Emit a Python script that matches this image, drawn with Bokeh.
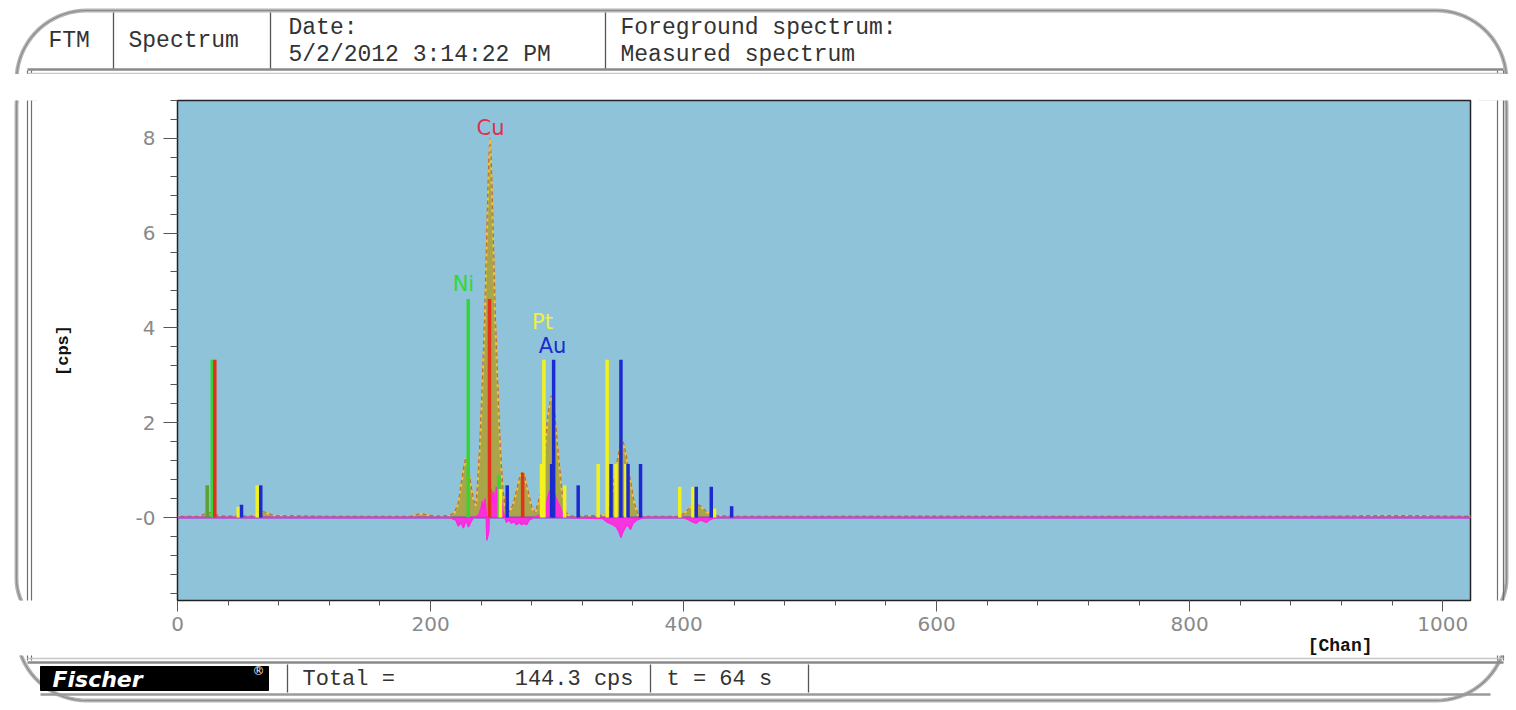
import numpy as np
from bokeh.plotting import figure
from bokeh.layouts import column, row
from bokeh.models import Range1d, SingleIntervalTicker, Title
from bokeh.core.properties import value
from bokeh.embed import file_html
from bokeh.resources import INLINE

# ---------------- data ----------------
spec_chan = [0, 18, 22, 26, 30, 34, 60, 64, 68, 72, 76, 120, 185, 192, 198, 205,
             215, 219, 222, 224, 226, 228, 230, 232, 234, 236, 237, 239, 241, 243,
             245, 246, 247, 248, 249, 251, 253, 255, 257, 259, 262, 265, 268, 271,
             272.5, 274, 277, 280, 283, 287, 290, 293, 295.5, 298, 301, 304, 307,
             310, 320, 339, 342, 345, 348, 351.5, 355, 358, 361, 364, 367, 380,
             398, 403, 408, 413, 418, 423, 440, 500, 600, 700, 800, 900, 960, 1022]
spec_cps = [0.02, 0.03, 0.08, 0.10, 0.06, 0.03, 0.03, 0.08, 0.12, 0.08, 0.04, 0.02,
            0.03, 0.08, 0.05, 0.03, 0.04, 0.10, 0.30, 0.65, 1.00, 1.27, 1.00, 0.65,
            0.35, 0.25, 0.60, 1.50, 2.80, 4.30, 6.40, 7.40, 8.00, 7.40, 6.40, 4.30,
            2.80, 1.50, 0.60, 0.20, 0.10, 0.25, 0.55, 0.90, 0.95, 0.90, 0.55, 0.20,
            0.10, 0.50, 1.30, 2.20, 2.57, 2.20, 1.30, 0.50, 0.10, 0.03, 0.03, 0.05,
            0.30, 0.75, 1.25, 1.68, 1.25, 0.75, 0.30, 0.05, 0.03, 0.02, 0.03, 0.15,
            0.28, 0.25, 0.12, 0.04, 0.02, 0.02, 0.03, 0.02, 0.02, 0.02, 0.04, 0.02]

res_chan = [0, 215, 220, 222, 224, 226, 228, 230, 232, 234, 238, 240, 241, 242,
            243, 244, 244.5, 246, 247, 248, 249, 250, 251, 252, 253, 254, 255, 257,
            260, 262, 264, 266, 268, 270, 272, 274, 276, 278, 282, 286, 290, 292,
            294, 296, 298, 300, 302, 304, 306, 310, 336, 340, 344, 347, 349, 350.5,
            352, 354, 356, 358, 360, 363, 368, 400, 404, 408, 410, 413, 416, 418,
            421, 425, 1022]
res_val = [0, 0, -0.05, -0.18, -0.10, -0.22, -0.05, -0.20, -0.08, 0.00, 0.05, 0.20,
           0.35, 0.15, 0.40, 0.10, -0.48, -0.30, 0.45, 0.60, 0.35, 0.55, 0.20, 0.65,
           0.30, 0.10, 0.60, 0.15, -0.10, -0.05, -0.12, -0.08, -0.15, -0.10, -0.15,
           -0.12, -0.15, -0.05, 0.00, 0.05, 0.15, 0.35, 0.55, 0.60, 0.50, 0.35, 0.25,
           0.10, 0.02, 0.00, -0.02, -0.10, -0.15, -0.20, -0.30, -0.42, -0.30, -0.20,
           -0.15, -0.25, -0.12, -0.05, 0.00, 0.00, -0.05, -0.10, -0.12, -0.05, -0.08,
           -0.10, -0.04, 0.00, 0.00]

esc_chan = [23.5]
esc_cps = [0.68]
ni_chan = [27.5, 229.8, 254.0]
ni_cps = [3.33, 4.61, 0.89]
cu_chan = [29.5, 246.6, 272.8]
cu_cps = [3.33, 4.61, 0.94]
pt_chan = [48.0, 63.0, 255.3, 287.7, 289.6, 306.0, 332.5, 339.6, 346.6, 354.4, 397.0, 407.4, 424.5]
pt_cps = [0.23, 0.68, 0.60, 1.13, 3.33, 0.68, 1.13, 3.33, 1.13, 1.13, 0.65, 0.65, 0.19]
au_chan = [50.6, 65.8, 260.6, 295.7, 297.3, 316.7, 342.7, 350.5, 356.1, 366.0, 410.0, 421.9, 438.0]
au_cps = [0.27, 0.68, 0.68, 1.13, 3.33, 0.68, 1.13, 3.33, 1.13, 1.13, 0.65, 0.65, 0.24]

peak_text = ["Cu", "Ni", "Pt", "Au"]
peak_chan = [247.4, 226.0, 288.5, 296.4]
peak_cps = [8.21, 4.92, 4.12, 3.61]

x_ticks_interval = 200
y_ticks_interval = 2

header_cells = ["FTM", "Spectrum", "Date:", "5/2/2012 3:14:22 PM",
                "Foreground spectrum:", "Measured spectrum"]
footer_cells = ["Total =", "144.3 cps", "t = 64 s"]

# ---------------- helpers ----------------
TOTAL_W = 1512
MONO = "Liberation Mono"


def page_fig(x0, y0, w, h):
    f = figure(width=w, height=h, x_range=Range1d(x0, x0 + w),
               y_range=Range1d(y0 + h, y0), x_axis_type=None, y_axis_type=None,
               toolbar_location=None, output_backend="svg", min_border=0,
               outline_line_color=None, background_fill_color="white",
               border_fill_color="white")
    return f


def rounded_rect(x0, y0, x1, y1, r):
    pts_x, pts_y = [], []
    corners = [(x1 - r, y0 + r, -90, 0), (x1 - r, y1 - r, 0, 90),
               (x0 + r, y1 - r, 90, 180), (x0 + r, y0 + r, 180, 270)]
    for cx, cy, a0, a1 in corners:
        t = np.radians(np.linspace(a0, a1, 20))
        pts_x += list(cx + r * np.cos(t))
        pts_y += list(cy + r * np.sin(t))
    pts_x.append(pts_x[0])
    pts_y.append(pts_y[0])
    return pts_x, pts_y


OX, OY = rounded_rect(16, 10, 1506, 700, 70)


def decorate(f):
    f.line(OX, OY, line_color="#b4b4b4", line_width=4)
    f.line(OX, OY, line_color="#8c8c8c", line_width=1.2)
    for xv in (27, 31, 1497, 1503):
        f.line([xv, xv], [70, 660], line_color="#6f6f6f", line_width=1.2)
    f.line([27, 1503], [69, 69], line_color="#8a8a8a", line_width=2.5)
    f.line([27, 1503], [73, 73], line_color="#c8c8c8", line_width=1.5)
    f.line([27, 1503], [658, 658], line_color="#c8c8c8", line_width=1.5)
    f.line([27, 1503], [662, 662], line_color="#8a8a8a", line_width=2.5)
    f.line([40, 1490], [694, 694], line_color="#9a9a9a", line_width=2.5)


# ---------------- header ----------------
hdr = page_fig(0, 0, TOTAL_W, 74)
decorate(hdr)
for xv in (113, 270, 605):
    hdr.line([xv, xv], [12, 68], line_color="#555555", line_width=1.3)
hdr_x = [48, 128, 288, 288, 620, 620]
hdr_y = [40, 40, 27, 54, 27, 54]
hdr.text(x=hdr_x, y=hdr_y, text=header_cells, text_font=value(MONO),
         text_font_size="23px", text_color="#333333", text_baseline="middle",
         text_align="left")

# ---------------- left / right strips ----------------
left = page_fig(0, 74, 38, 581)
decorate(left)
right = page_fig(1478, 74, 34, 581)
decorate(right)

# ---------------- main spectrum ----------------
p = figure(width=1440, height=581, x_range=Range1d(0, 1022),
           y_range=Range1d(-1.75, 8.8), toolbar_location=None,
           output_backend="svg", min_border_left=139, min_border_right=8,
           min_border_top=26, min_border_bottom=53,
           background_fill_color="#8ec3da", border_fill_color="white",
           outline_line_color="#222222", outline_line_width=1.5)
p.grid.visible = False

p.xaxis.ticker = SingleIntervalTicker(interval=x_ticks_interval, num_minor_ticks=5)
p.yaxis.ticker = SingleIntervalTicker(interval=y_ticks_interval, num_minor_ticks=5)
for ax in (p.xaxis, p.yaxis):
    ax.axis_line_color = "#222222"
    ax.major_tick_line_color = "#555555"
    ax.minor_tick_line_color = "#555555"
    ax.major_tick_in = 0
    ax.minor_tick_in = 0
    ax.major_label_text_font = "DejaVu Sans"
    ax.major_label_text_color = "#8a8a8a"
p.xaxis.major_tick_out = 11
p.xaxis.minor_tick_out = 5
p.xaxis.major_label_text_font_size = "20px"
p.xaxis.major_label_standoff = 5
p.yaxis.major_tick_out = 14
p.yaxis.minor_tick_out = 7
p.yaxis.major_label_text_font_size = "20px"
p.yaxis.major_label_standoff = 8
p.yaxis.major_label_overrides = {0: "-0"}
p.yaxis.axis_label = "[cps]"
p.yaxis.axis_label_text_font = MONO
p.yaxis.axis_label_text_font_style = "bold"
p.yaxis.axis_label_text_font_size = "17px"
p.yaxis.axis_label_text_color = "#111111"
p.yaxis.axis_label_standoff = 60

# measured spectrum baseline (red-brown) under the olive fitted area
p.line(spec_chan, spec_cps, line_color="#c0583c", line_width=1.5)
p.varea(x=spec_chan, y1=0, y2=spec_cps, fill_color="#aaa54a", fill_alpha=1.0)
p.line(spec_chan, spec_cps, line_color="#ecc83c", line_width=2, line_dash="3 4")
# zero line
p.line([0, 1022], [0, 0], line_color="#8a3fd0", line_width=2)
# residual (magenta)
p.varea(x=res_chan, y1=0, y2=res_val, fill_color="#ff26e0", fill_alpha=0.9)
p.line(res_chan, res_val, line_color="#ff26e0", line_width=1.5)

# element sticks
p.segment(x0=esc_chan, y0=0, x1=esc_chan, y1=esc_cps, line_color="#5f9e34", line_width=3.5)
p.segment(x0=ni_chan, y0=0, x1=ni_chan, y1=ni_cps, line_color="#33d633", line_width=3.5)
p.segment(x0=cu_chan, y0=0, x1=cu_chan, y1=cu_cps, line_color="#e4301c", line_width=3.5)
p.segment(x0=pt_chan, y0=0, x1=pt_chan, y1=pt_cps, line_color="#f4f21e", line_width=3.5)
p.segment(x0=au_chan, y0=0, x1=au_chan, y1=au_cps, line_color="#1b2bd0", line_width=3.5)

peak_colors = ["#e03050", "#33d633", "#f0f040", "#1b2bd0"]
p.text(x=peak_chan, y=peak_cps, text=peak_text, text_color=peak_colors,
       text_font=value("DejaVu Sans"), text_font_size="21px",
       text_align="center", text_baseline="middle")

p.add_layout(Title(text="[Chan]", align="right", offset=98, standoff=0,
                   text_font=MONO, text_font_style="bold",
                   text_font_size="18px", text_color="#111111"), "below")

# ---------------- footer ----------------
ftr = page_fig(0, 655, TOTAL_W, 49)
decorate(ftr)
ftr.quad(left=[40], right=[268], top=[666], bottom=[690], fill_color="black",
         line_color="black")
ftr.text(x=[52], y=[679], text=["Fischer"], text_font=value("DejaVu Sans"),
         text_font_style="bold italic", text_font_size="22px", text_color="white",
         text_baseline="middle")
ftr.text(x=[252], y=[670], text=["®"], text_font=value("DejaVu Sans"),
         text_font_size="12px", text_color="white", text_baseline="middle")
for xv in (287, 650, 808):
    ftr.line([xv, xv], [664, 692], line_color="#555555", line_width=1.3)
ftr.text(x=[302, 633, 666], y=[679, 679, 679], text=footer_cells,
         text_align=["left", "right", "left"], text_font=value(MONO),
         text_font_size="22px", text_color="#333333", text_baseline="middle")

layout = column(hdr, row(left, p, right, spacing=0), ftr, spacing=0)

open("out.html", "w").write(file_html(layout, INLINE))
